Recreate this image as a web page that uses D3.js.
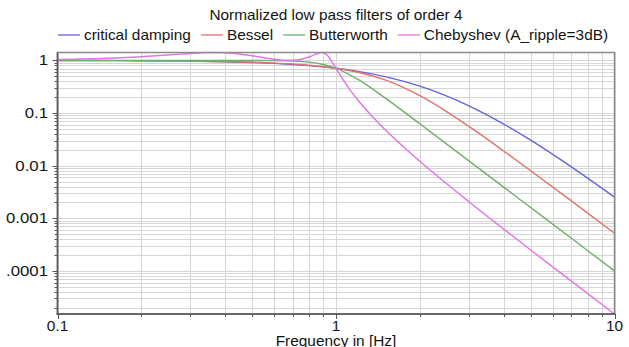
<!DOCTYPE html>
<html><head><meta charset="utf-8">
<script src="https://cdn.jsdelivr.net/npm/d3@7"></script>
<style>
body{margin:0;background:#fff}
svg{display:block}
text{font-family:"Liberation Sans",Arial,sans-serif;fill:#141414}
</style>
</head><body><svg id="c" width="629" height="347"></svg>
<script>
// ---- data (amplitude |H|) ----
const titleText = "Normalized low pass filters of order 4";
const xLabel = "Frequency in [Hz]";
const seriesNames = ["critical damping", "Bessel", "Butterworth", "Chebyshev (A_ripple=3dB)"];
const seriesColors = ["#6464dc", "#e4706a", "#6cb06c", "#e472e8"];

const freq = [0.1,0.15,0.2,0.3,0.4,0.5,0.6,0.7,0.8,0.9,1,1.2,1.5,2,3,4,5,7,10];
const criticalDamping = [0.9962,0.9915,0.985,0.967,0.9421,0.912,0.8765,0.8375,0.7957,0.7519,0.7071,0.6176,0.492,0.324,0.1369,0.0617,0.0305,0.00948,0.00252];
const bessel = [0.9968,0.9928,0.9873,0.9715,0.9497,0.922,0.8888,0.8503,0.8069,0.759,0.7071,0.5951,0.4255,0.2137,0.05566,0.01898,0.008016,0.002139,0.00052];
const butterworth = [1,1,1,0.99997,0.99967,0.99805,0.99171,0.9724,0.9254,0.8361,0.7071,0.4344,0.1938,0.0624,0.01234,0.003906,0.0016,0.0004165,0.0001];

const freqCheb = [0.1,0.15,0.2,0.25,0.3,0.35,0.3675,0.4,0.45,0.5,0.55,0.6,0.65,0.7,0.75,0.8,0.85,0.887,0.9,0.93,0.96,0.98,1,1.02,1.05,1.1,1.2,1.5,2,3,4,5,7,10];
const chebyshev = [1.0437,1.0989,1.1754,1.2668,1.3549,1.4082,1.4125,1.3975,1.3247,1.2221,1.1237,1.049,1.007,1.004,1.0494,1.1589,1.3308,1.4125,1.3978,1.2463,1.0,0.8435,0.7071,0.5949,0.4655,0.3222,0.1752,0.0486,0.01212,0.002067,0.0006235,0.0002499,0.00006387,0.00001519];

const xTickValues = [0.1, 1, 10];
const xTickLabels = ["0.1", "1", "10"];
const yTickValues = [1, 0.1, 0.01, 0.001, 0.0001];
const yTickLabels = ["1", "0.1", "0.01", "0.001", ".0001"];

// ---- layout ----
const L = 57.5, R = 614.5, T = 52.5, B = 314;
const svg = d3.select("#c");
const series = [
  {name: seriesNames[0], color: seriesColors[0], x: freq, y: criticalDamping},
  {name: seriesNames[1], color: seriesColors[1], x: freq, y: bessel},
  {name: seriesNames[2], color: seriesColors[2], x: freq, y: butterworth},
  {name: seriesNames[3], color: seriesColors[3], x: freqCheb, y: chebyshev}
];
const allY = series.flatMap(s => s.y);
const x = d3.scaleLog().domain([0.1, 10]).range([L, R]);
const y = d3.scaleLog().domain(d3.extent(allY)).range([B, T]);

function stext(g, str, px, py, anchor, size, sx) {
  return g.append("text").text(str)
    .attr("transform", `translate(${px},${py}) scale(${sx},1)`)
    .attr("text-anchor", anchor).attr("font-size", size);
}

// grid
const grid = svg.append("g");
const xMinor = x.ticks();
const yMinor = y.ticks().filter(v => v >= y.domain()[0] && v <= y.domain()[1]);
grid.selectAll("line.v").data(xMinor).join("line")
  .attr("x1", d => Math.round(x(d)) + 0.5).attr("x2", d => Math.round(x(d)) + 0.5)
  .attr("y1", T).attr("y2", B).attr("stroke", "#d6d6d6").attr("stroke-width", 1);
grid.selectAll("line.h").data(yMinor).join("line")
  .attr("y1", d => Math.round(y(d)) + 0.5).attr("y2", d => Math.round(y(d)) + 0.5)
  .attr("x1", L).attr("x2", R).attr("stroke", "#d6d6d6").attr("stroke-width", 1);

// curves
svg.append("defs").append("clipPath").attr("id", "clip")
  .append("rect").attr("x", L).attr("y", T - 1).attr("width", R - L).attr("height", B - T + 2);
const line = d3.line().curve(d3.curveMonotoneX);
const cg = svg.append("g").attr("clip-path", "url(#clip)");
series.forEach(s => {
  cg.append("path")
    .attr("d", line(s.x.map((f, i) => [x(f), y(s.y[i])])))
    .attr("fill", "none").attr("stroke", s.color).attr("stroke-width", 1.4);
});

// border
svg.append("rect").attr("x", L).attr("y", T).attr("width", R - L).attr("height", B - T)
  .attr("fill", "none").attr("stroke", "#8c8c8c").attr("stroke-width", 1.5);
svg.append("line").attr("x1", L).attr("x2", L).attr("y1", T).attr("y2", B + 1)
  .attr("stroke", "#555").attr("stroke-width", 1.5);
svg.append("line").attr("x1", L - 1).attr("x2", R + 1).attr("y1", B).attr("y2", B)
  .attr("stroke", "#555").attr("stroke-width", 1.5);

// ticks
const isMajor = v => Math.abs(Math.log10(v) - Math.round(Math.log10(v))) < 1e-6;
svg.append("g").selectAll("line").data(yMinor).join("line")
  .attr("x1", d => L - (isMajor(d) ? 5 : 3)).attr("x2", L)
  .attr("y1", d => Math.round(y(d)) + 0.5).attr("y2", d => Math.round(y(d)) + 0.5)
  .attr("stroke", "#555").attr("stroke-width", 1);
svg.append("g").selectAll("line").data(xMinor).join("line")
  .attr("y1", B).attr("y2", d => B + (isMajor(d) ? 5 : 3))
  .attr("x1", d => Math.round(x(d)) + 0.5).attr("x2", d => Math.round(x(d)) + 0.5)
  .attr("stroke", "#555").attr("stroke-width", 1);

// tick labels
const tl = svg.append("g");
yTickValues.forEach((v, i) => stext(tl, yTickLabels[i], 48, y(v) + 5, "end", 14, 1.2));
xTickValues.forEach((v, i) => stext(tl, xTickLabels[i], x(v), 331, "middle", 14, 1.1));

// titles
stext(svg, titleText, 336, 20, "middle", 14, 1.1);
stext(svg, xLabel, 336, 345.5, "middle", 14, 1.1);

// legend
let lx = 58;
const lg = svg.append("g");
series.forEach(s => {
  lg.append("line").attr("x1", lx).attr("x2", lx + 22).attr("y1", 35).attr("y2", 35)
    .attr("stroke", s.color).attr("stroke-width", 1.3);
  const t = stext(lg, s.name, lx + 26, 39.5, "start", 14, 1.1);
  const w = t.node().getComputedTextLength() * 1.1;
  lx += 26 + w + 10;
});
</script>
</body></html>
